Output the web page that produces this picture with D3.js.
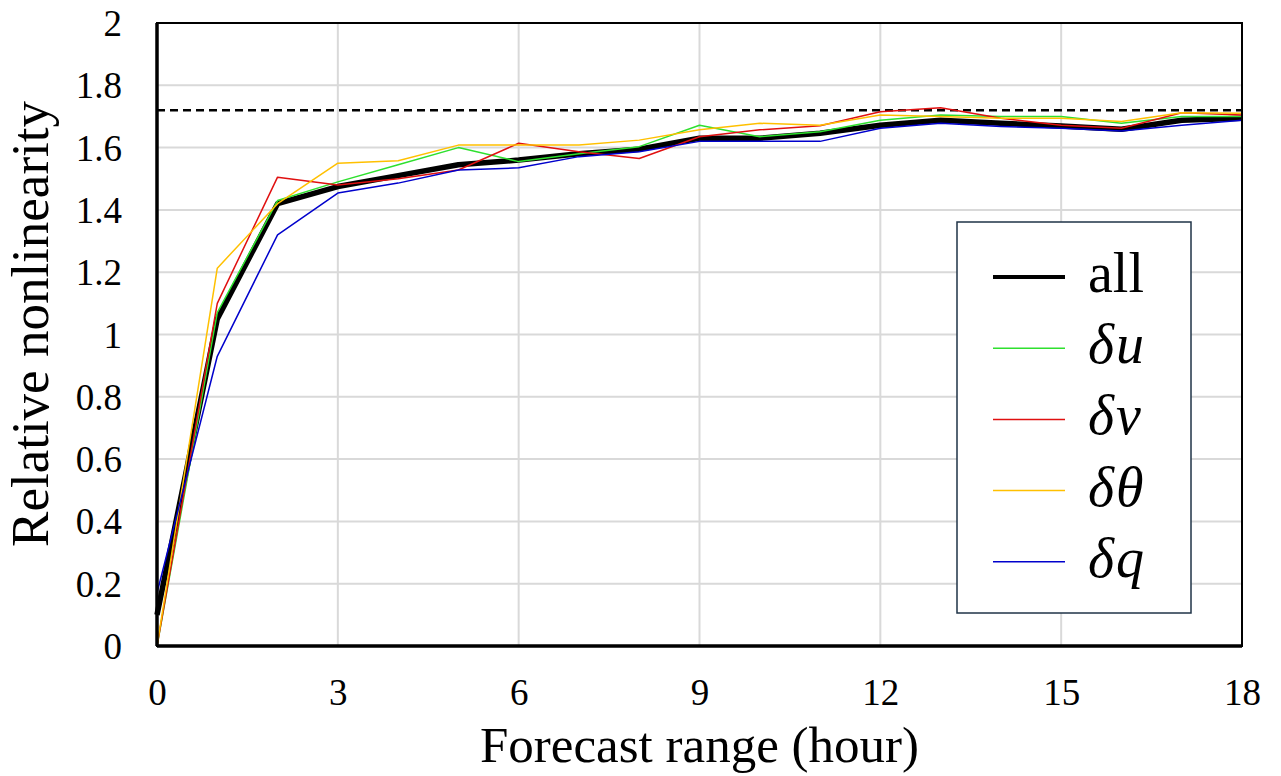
<!DOCTYPE html>
<html lang="en">
<head>
<meta charset="UTF-8">
<title>relative nonlinearity</title>
<script src="https://d3js.org/d3.v7.min.js"></script>
<style>
  body { margin: 0; background: #fff; }
  svg { display: block; }
  text { font-family: "Liberation Serif", "Times New Roman", serif; fill: #000; }
  .grid line { stroke: #d9d9d9; stroke-width: 2; }
</style>
</head>
<body>
<div id="viz"></div>
<script>
// forecast hours
var hours = [0, 1, 2, 3, 4, 5, 6, 7, 8, 9, 10, 11, 12, 13, 14, 15, 16, 17, 18];

var allVals   = [0.10, 1.05, 1.42, 1.475, 1.51, 1.545, 1.56, 1.58, 1.595, 1.63, 1.63, 1.646, 1.672, 1.688, 1.678, 1.669, 1.659, 1.688, 1.694];
var uVals     = [0.00, 1.07, 1.43, 1.49, 1.545, 1.60, 1.555, 1.58, 1.603, 1.672, 1.635, 1.651, 1.688, 1.705, 1.70, 1.70, 1.678, 1.70, 1.70];
var vVals     = [0.00, 1.10, 1.505, 1.48, 1.50, 1.528, 1.614, 1.587, 1.565, 1.635, 1.657, 1.67, 1.715, 1.728, 1.694, 1.672, 1.662, 1.712, 1.705];
var thetaVals = [0.00, 1.213, 1.42, 1.55, 1.558, 1.608, 1.608, 1.608, 1.624, 1.657, 1.678, 1.672, 1.705, 1.70, 1.694, 1.694, 1.684, 1.712, 1.71];
var qVals     = [0.17, 0.93, 1.32, 1.454, 1.486, 1.528, 1.535, 1.571, 1.587, 1.62, 1.62, 1.62, 1.662, 1.678, 1.668, 1.662, 1.653, 1.672, 1.688];

var refLevel = 1.72;

var xTicks = [0, 3, 6, 9, 12, 15, 18];
var yTicks = [0, 0.2, 0.4, 0.6, 0.8, 1, 1.2, 1.4, 1.6, 1.8, 2];

var seriesNames = ["all", "u", "v", "θ", "q"];
var seriesColors = ["#000000", "#2ee02e", "#e01010", "#ffc000", "#0000cc"];
var seriesWidths = [5.5, 1.5, 1.5, 1.5, 1.5];
var seriesData = [allVals, uVals, vVals, thetaVals, qVals];

var W = 1281, H = 776;
var margin = {top: 23, left: 157, right: 39, bottom: 130};
var width = W - margin.left - margin.right;
var height = H - margin.top - margin.bottom;

var serif = '"Liberation Serif", "Times New Roman", serif';

var svg = d3.select('#viz').append('svg')
  .attr('width', W)
  .attr('height', H);

var g = svg.append('g')
  .attr('transform', 'translate(' + margin.left + ',' + margin.top + ')');

var x = d3.scaleLinear().domain([0, 18]).range([0, width]);
var y = d3.scaleLinear().domain([0, 2]).range([height, 0]);

// grid
var grid = g.append('g').attr('class', 'grid');
grid.selectAll('.h').data(yTicks.slice(1, -1)).enter().append('line')
  .attr('x1', 0).attr('x2', width)
  .attr('y1', function (d) { return y(d); })
  .attr('y2', function (d) { return y(d); });
grid.selectAll('.v').data(xTicks.slice(1, -1)).enter().append('line')
  .attr('y1', 0).attr('y2', height)
  .attr('x1', function (d) { return x(d); })
  .attr('x2', function (d) { return x(d); });

// reference dashed line
g.append('line')
  .attr('x1', 0).attr('x2', width)
  .attr('y1', y(refLevel)).attr('y2', y(refLevel))
  .attr('stroke', '#000')
  .attr('stroke-width', 2.5)
  .attr('stroke-dasharray', '8,5');

var line = d3.line()
  .x(function (d, i) { return x(hours[i]); })
  .y(function (d) { return y(d); });

seriesData.forEach(function (vals, k) {
  g.append('path')
    .datum(vals)
    .attr('fill', 'none')
    .attr('stroke', seriesColors[k])
    .attr('stroke-width', seriesWidths[k])
    .attr('stroke-linejoin', 'round')
    .attr('d', line);
});

// frame
g.append('rect')
  .attr('x', 0).attr('y', 0)
  .attr('width', width).attr('height', height)
  .attr('fill', 'none')
  .attr('stroke', '#000')
  .attr('stroke-width', 2);
g.append('line').attr('x1', 0).attr('x2', 0).attr('y1', 0).attr('y2', height)
  .attr('stroke', '#000').attr('stroke-width', 3.5);
g.append('line').attr('x1', 0).attr('x2', width).attr('y1', height).attr('y2', height)
  .attr('stroke', '#000').attr('stroke-width', 3.5);

// axes
var xAxis = d3.axisBottom(x).tickValues(xTicks).tickSize(0).tickPadding(33);
var yAxis = d3.axisLeft(y).tickValues(yTicks).tickSize(0).tickPadding(35)
  .tickFormat(function (d) { return String(+d.toFixed(1)); });

var gx = g.append('g').attr('transform', 'translate(0,' + height + ')').call(xAxis);
var gy = g.append('g').call(yAxis);
[gx, gy].forEach(function (a) {
  a.attr('font-family', serif).attr('font-size', 37);
  a.select('.domain').remove();
  a.selectAll('text')
    .style('font-family', serif)
    .style('font-size', '37px')
    .attr('fill', '#000');
});
gy.selectAll('text').attr('dy', '0.34em');

svg.append('text')
  .attr('x', margin.left + width / 2)
  .attr('y', 762)
  .attr('text-anchor', 'middle')
  .style('font-size', '51px')
  .text('Forecast range (hour)');

svg.append('text')
  .attr('transform', 'translate(48,324) rotate(-90)')
  .attr('text-anchor', 'middle')
  .style('font-size', '53px')
  .text('Relative nonlinearity');

// legend
var lg = svg.append('g').attr('transform', 'translate(957,222)');
lg.append('rect')
  .attr('width', 234).attr('height', 391)
  .attr('fill', '#fff')
  .attr('stroke', '#1f3347')
  .attr('stroke-width', 1.5);

seriesNames.forEach(function (name, i) {
  var yy = 55 + i * 71.2;
  lg.append('line')
    .attr('x1', 36).attr('x2', 108)
    .attr('y1', yy).attr('y2', yy)
    .attr('stroke', seriesColors[i])
    .attr('stroke-width', i === 0 ? 4 : 1.5);
  var t = lg.append('text')
    .attr('x', 131)
    .attr('y', yy + 15)
    .style('font-size', '56px');
  if (i === 0) {
    t.text(name);
  } else {
    t.style('font-style', 'italic');
    t.append('tspan').text('δ');
    t.append('tspan').attr('dx', 2).text(name);
  }
});
</script>
</body>
</html>
